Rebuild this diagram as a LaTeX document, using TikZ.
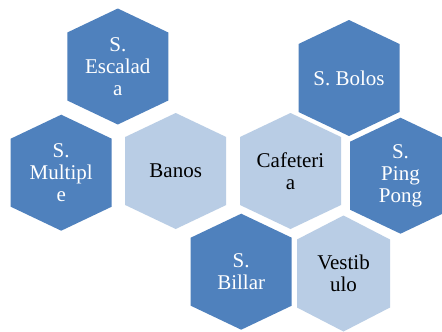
\documentclass[tikz,border=0pt]{standalone}
\usepackage{fontspec}
\setmainfont{Liberation Serif}
\definecolor{hexdark}{HTML}{4F81BD}
\definecolor{hexlight}{HTML}{B9CDE5}
\tikzset{
  hexlbl/.style={align=center, inner sep=0pt, font=\fontsize{21}{22}\selectfont},
}
\newcommand\hexcell[6]{%
  \fill[#4, shift={(#2)}] (0,-58) -- (#3,-34) -- (#3,34) -- (0,58) -- (-#3,34) -- (-#3,-34) -- cycle;
  \node[hexlbl, text=#5] (#1) at (#2) {#6};
}
\begin{document}
\begin{tikzpicture}[x=1pt,y=-1pt]
\clip (0,0) rectangle (442,332);
\fill[white] (0,0) rectangle (442,332);
\hexcell{esc}{117.8,66.5}{50.5}{hexdark}{white}{S.\\Escalad\\a}
\hexcell{mul}{61.2,172.7}{50.5}{hexdark}{white}{S.\\Multipl\\e}
\hexcell{ban}{175.7,171}{50.5}{hexlight}{black}{Banos}
\hexcell{caf}{290.5,171}{50.5}{hexlight}{black}{Cafeteri\\a}
\hexcell{bol}{349,78}{50.5}{hexdark}{white}{S. Bolos}
\hexcell{pin}{400.5,175.7}{50.5}{hexdark}{white}{S.\\Ping\\Pong}
\hexcell{bil}{241.2,271.7}{50.5}{hexdark}{white}{S.\\Billar}
\hexcell{ves}{343.5,273.5}{46.5}{hexlight}{black}{Vestib\\ulo}
\end{tikzpicture}
\end{document}
